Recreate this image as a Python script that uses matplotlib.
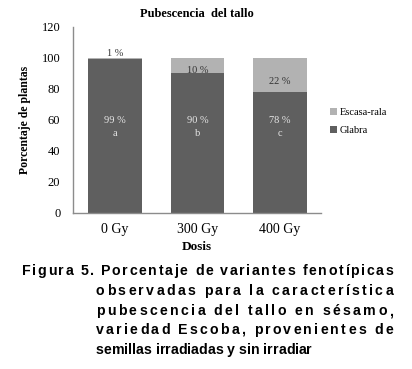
import matplotlib
matplotlib.use('Agg')
import matplotlib.pyplot as plt
from matplotlib.font_manager import FontProperties, findfont, get_font
import numpy as np

dosis = ['0 Gy', '300 Gy', '400 Gy']
glabra = [99, 90, 78]
escasa = [1, 10, 22]
letras = ['a', 'b', 'c']
yticks = [0, 20, 40, 60, 80, 100, 120]

caption = [
    "Figura 5. Porcentaje de variantes fenotípicas",
    "observadas para la característica",
    "pubescencia del tallo en sésamo,",
    "variedad Escoba, provenientes de",
    "semillas irradiadas y sin irradiar",
]

serif = 'Liberation Serif'
dark = '#5f5f5f'
light = '#b2b2b2'

fig = plt.figure(figsize=(4.12, 3.69), dpi=100)
ax = fig.add_axes([0.177, 0.423, 0.602, 0.504])

x = np.arange(len(dosis))
ax.bar(x, glabra, width=0.65, color=dark, label='Glabra')
ax.bar(x, escasa, width=0.65, bottom=glabra, color=light, label='Escasa-rala')

for i in range(len(dosis)):
    ax.text(x[i], 59.5, f'{glabra[i]} %', ha='center', va='center',
            color='#e6e6e6', fontsize=7.5, family=serif)
    ax.text(x[i], 51.5, letras[i], ha='center', va='center',
            color='#e6e6e6', fontsize=7.5, family=serif)
label_y = [102.8, 91.8, 84.5]
for i in range(len(dosis)):
    ax.text(x[i], label_y[i], f'{escasa[i]} %', ha='center', va='center',
            color='#333333', fontsize=7.5, family=serif)

ax.set_xlim(-0.51, 2.5)
ax.set_ylim(0, 120)
ax.set_yticks(yticks)
ax.set_xticks(x)
ax.set_xticklabels(dosis, fontsize=10, family=serif)
for lab in ax.get_yticklabels():
    lab.set_fontsize(9)
    lab.set_family(serif)
ax.tick_params(length=0, pad=9)
ax.tick_params(axis='x', pad=7)
for s in ['top', 'right']:
    ax.spines[s].set_visible(False)
for s in ['left', 'bottom']:
    ax.spines[s].set_color('#8c8c8c')
    ax.spines[s].set_linewidth(1)

ax.set_title('Pubescencia  del tallo', fontsize=9, fontweight='bold',
             family=serif, pad=7)
ax.set_xlabel('Dosis', fontsize=9.5, fontweight='bold', family=serif, labelpad=4)
ax.set_ylabel('Porcentaje de plantas', fontsize=8.5, fontweight='bold',
              family=serif, labelpad=8)

h, l = ax.get_legend_handles_labels()
ax.legend(h[::-1], l[::-1], loc='center left', bbox_to_anchor=(1.0, 0.49),
          frameon=False, prop={'family': serif, 'size': 7.5},
          handlelength=0.6, handleheight=0.6, handletextpad=0.3,
          labelspacing=0.9)

# caption, justified by spreading letters (advance widths from the font)
W, H = 412, 369
cap_size = 10.2
ft = get_font(findfont(FontProperties(family='Liberation Sans', weight='bold')))
ft.set_size(cap_size, 100)
baselines = [275, 295, 315, 334, 354]
starts = [22, 96, 96, 96, 96]
end = 393
for k, line in enumerate(caption):
    adv = [ft.load_char(ord(c)).linearHoriAdvance / 65536 for c in line]
    if k < len(caption) - 1:
        extra = (end - starts[k] - sum(adv)) / (len(line) - 1)
    else:
        extra = 0.0
    pos = starts[k]
    for c, a in zip(line, adv):
        if c != ' ':
            fig.text(pos / W, 1 - baselines[k] / H, c, fontsize=cap_size,
                     fontweight='bold', family='Liberation Sans',
                     va='baseline', ha='left')
        pos += a + extra

fig.savefig('out.png', dpi=100)
